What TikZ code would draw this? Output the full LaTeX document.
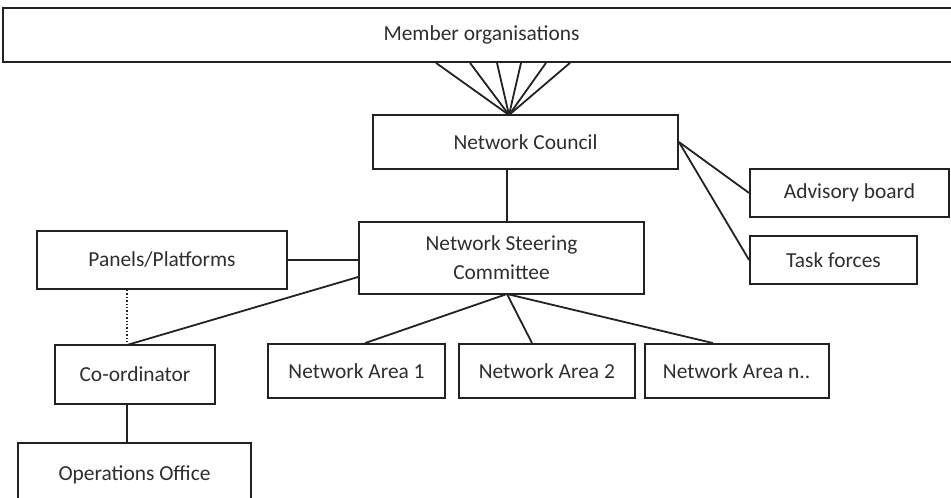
\documentclass[tikz,border=0pt]{standalone}
\usepackage{fontspec}
\setmainfont{Carlito}
\usetikzlibrary{positioning,calc}
\definecolor{ink}{HTML}{222222}
\definecolor{txt}{HTML}{2E2E2E}

\begin{document}
\begin{tikzpicture}[x=1pt,y=-1pt,draw=ink,line width=1.8pt,align=center,font=\fontsize{21.4}{29}\selectfont,
  box/.style={draw,inner sep=0pt,text=txt,minimum height=54pt}]
\useasboundingbox (0,0) rectangle (951,498);
\clip (0,0) rectangle (951,498);
\node[box,minimum width=957pt] (mo) at (481.5,35) {Member organisations};
\node[box,minimum width=305pt] (nc) at (525.5,142) {Network Council};
\node[box,minimum width=285pt,minimum height=72pt] (nsc) at (501.5,258) {Network Steering\\Committee};
\node[box,minimum width=199pt,minimum height=48pt] (adv) at (849.5,193) {Advisory board};
\node[box,minimum width=167pt,minimum height=48pt] (task) at (833.5,260) {Task forces};
\node[box,minimum width=250pt,minimum height=58pt] (panels) at (162,260) {Panels/Platforms};
\node[box,minimum width=160pt,minimum height=59pt] (coord) at (135,374.5) {Co-ordinator};
\node[box,minimum width=177pt] (area1) at (356.5,371) {Network Area 1};
\node[box,minimum width=176pt,right=12pt of area1] (area2) {Network Area 2};
\node[box,minimum width=184pt,right=8pt of area2] (arean) {Network Area n..};
\node[box,minimum width=233pt,minimum height=100pt,text height=16pt,text depth=40pt,anchor=north] (ops) at (134.5,442) {Operations Office};
\coordinate (nctop) at (509,115);
\coordinate (nscbot) at (507,294);
\coordinate (coordtop) at (127,345);
\foreach \x in {436,470,497,521,546,570}
  \draw (\x,0 |- mo.south) -- (nctop);
\draw (nc.south -| nscbot) -- (nsc.north -| nscbot);
\draw (nc.east) -- (adv.west);
\draw (nc.east) -- (task.west);
\draw (panels.east) -- (panels.east -| nsc.west);
\draw ($(nsc.west)+(0,19)$) -- (coordtop);
\draw[dotted,line width=1.4pt] (coordtop |- panels.south) -- (coordtop);
\draw (coord.south -| coordtop) -- (ops.north -| coordtop);
\foreach \x/\a in {365/area1,532/area2,713/arean}
  \draw (nscbot) -- (\x,0 |- \a.north);
\end{tikzpicture}
\end{document}
